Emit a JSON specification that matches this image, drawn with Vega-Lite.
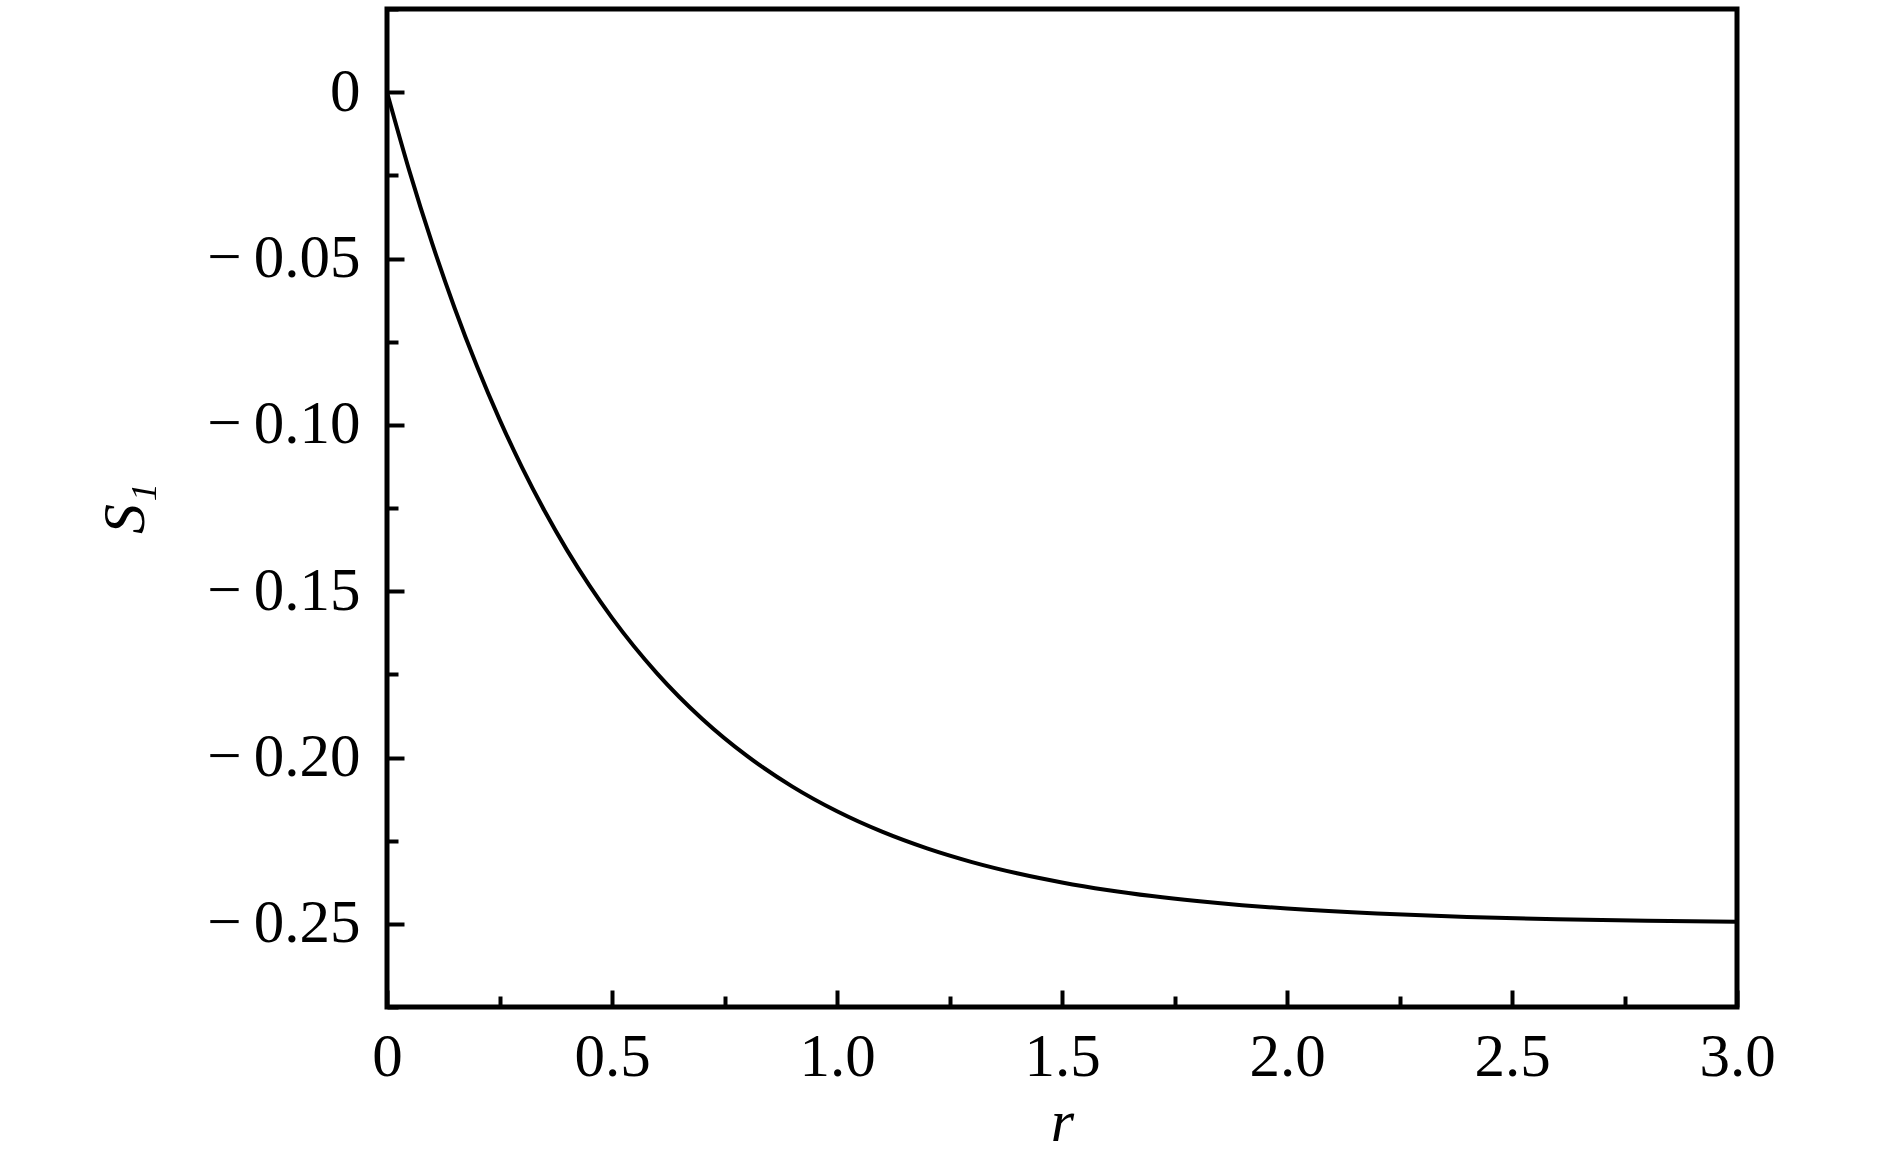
{
  "$schema": "https://vega.github.io/schema/vega-lite/v6.json",
  "width": 1350,
  "height": 998,
  "autosize": {"type": "none"},
  "padding": {"left": 387, "top": 9, "right": 153, "bottom": 151},
  "background": "white",
  "config": {
    "view": {"stroke": "black", "strokeWidth": 5},
    "font": "Liberation Serif",
    "axis": {
      "domain": false,
      "grid": false,
      "tickColor": "black",
      "tickWidth": 4,
      "labelFont": "Liberation Serif",
      "labelFontSize": 61,
      "labelColor": "black",
      "titleFont": "Liberation Serif",
      "titleFontSize": 60,
      "titleFontStyle": "italic",
      "titleFontWeight": "normal",
      "titleColor": "black",
      "labelOverlap": false,
      "labelFlush": false
    }
  },
  "data": {
    "values": [
      {"r": 0.0, "S1": 0.0},
      {"r": 0.05, "S1": -0.02379},
      {"r": 0.1, "S1": -0.04532},
      {"r": 0.15, "S1": -0.0648},
      {"r": 0.2, "S1": -0.08242},
      {"r": 0.25, "S1": -0.09837},
      {"r": 0.3, "S1": -0.1128},
      {"r": 0.35, "S1": -0.12585},
      {"r": 0.4, "S1": -0.13767},
      {"r": 0.45, "S1": -0.14836},
      {"r": 0.5, "S1": -0.15803},
      {"r": 0.6, "S1": -0.1747},
      {"r": 0.7, "S1": -0.18835},
      {"r": 0.8, "S1": -0.19953},
      {"r": 0.9, "S1": -0.20868},
      {"r": 1.0, "S1": -0.21617},
      {"r": 1.1, "S1": -0.2223},
      {"r": 1.2, "S1": -0.22732},
      {"r": 1.3, "S1": -0.23143},
      {"r": 1.4, "S1": -0.2348},
      {"r": 1.5, "S1": -0.23755},
      {"r": 1.6, "S1": -0.23981},
      {"r": 1.7, "S1": -0.24166},
      {"r": 1.8, "S1": -0.24317},
      {"r": 1.9, "S1": -0.24441},
      {"r": 2.0, "S1": -0.24542},
      {"r": 2.2, "S1": -0.24693},
      {"r": 2.4, "S1": -0.24794},
      {"r": 2.6, "S1": -0.24862},
      {"r": 2.8, "S1": -0.24908},
      {"r": 3.0, "S1": -0.24938}
    ]
  },
  "mark": {"type": "line", "color": "black", "strokeWidth": 4, "interpolate": "monotone", "clip": true},
  "encoding": {
    "x": {
      "field": "r",
      "type": "quantitative",
      "scale": {"domain": [0, 3], "nice": false, "zero": false},
      "axis": {
        "title": "r",
        "values": [0, 0.25, 0.5, 0.75, 1, 1.25, 1.5, 1.75, 2, 2.25, 2.5, 2.75, 3],
        "labelExpr": "datum.value % 0.5 === 0 ? (datum.value === 0 ? '0' : format(datum.value, '.1f')) : ''",
        "tickSize": {"condition": {"test": "datum.value % 0.5 === 0", "value": -17}, "value": -11},
        "labelPadding": 37,
        "titlePadding": 0
      }
    },
    "y": {
      "field": "S1",
      "type": "quantitative",
      "scale": {"domain": [-0.275, 0.025], "nice": false, "zero": false},
      "axis": {
        "title": "S₁",
        "values": [0.025, 0, -0.025, -0.05, -0.075, -0.1, -0.125, -0.15, -0.175, -0.2, -0.225, -0.25, -0.275],
        "labelExpr": "abs(round(datum.value * 1000)) % 50 === 0 ? (datum.value === 0 ? '0' : '−\u2009' + format(abs(datum.value), '.2f')) : ''",
        "tickSize": {"condition": {"test": "abs(round(datum.value * 1000)) % 50 === 0", "value": -17}, "value": -11},
        "labelPadding": 44,
        "titlePadding": 50
      }
    }
  }
}
